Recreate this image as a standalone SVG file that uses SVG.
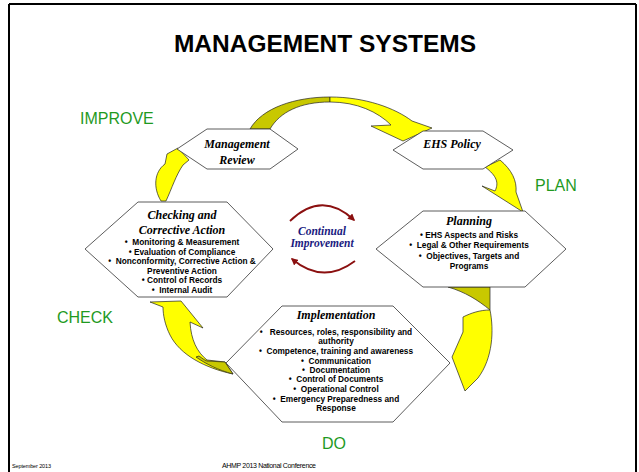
<svg xmlns="http://www.w3.org/2000/svg" width="639" height="472" viewBox="0 0 639 472">
<defs>
<style>
.hex{fill:#fff;stroke:#333;stroke-width:0.8}
.ttl{font-family:"Liberation Serif",serif;font-weight:bold;font-style:italic;font-size:12px;fill:#000;text-anchor:middle}
.bul{font-family:"Liberation Sans",Arial,sans-serif;font-weight:bold;font-size:8.3px;fill:#000;text-anchor:middle;white-space:pre}
.phase{font-family:"Liberation Sans",Arial,sans-serif;font-size:16px;fill:#1f9a1f}
.yel{fill:#ffff00;stroke:#222;stroke-width:0.7;stroke-linejoin:round}
.drk{fill:#c8c800;stroke:#222;stroke-width:0.7;stroke-linejoin:round}
.ci{font-family:"Liberation Serif",serif;font-weight:bold;font-style:italic;font-size:11.5px;fill:#1a1a80;text-anchor:middle}
.arc{fill:none;stroke:#8b1010;stroke-width:1.8}
</style>
<marker id="ah" viewBox="0 0 10 10" refX="8" refY="5" markerWidth="4" markerHeight="4" orient="auto" markerUnits="strokeWidth">
<path d="M0,0 L10,5 L0,10 Z" fill="#8b1010"/>
</marker>
</defs>
<rect width="639" height="472" fill="#fff"/>
<g id="frame" stroke="#000" fill="none">
<line x1="9" y1="4" x2="636" y2="4" stroke-width="2"/>
<line x1="9" y1="4" x2="9" y2="472" stroke-width="2"/>
<line x1="636" y1="4" x2="636" y2="472" stroke-width="2"/>
</g>
<text x="325" y="52" font-family="Liberation Sans,Arial,sans-serif" font-weight="bold" font-size="24.5" text-anchor="middle">MANAGEMENT SYSTEMS</text>
<g id="connectors">
<path class="drk" d="M250,129 C262,108 295,97 330,97 L330,102 C300,102 280,112 270,129 Z"/>
<path class="yel" d="M330,97 C365,97 395,108 412,121 L432,128 L403,141 L371,126 L391,125 C378,112 357,102 330,102 Z"/>
<path class="yel" d="M485,167 C497,176 499,183 495,191 L482,186 L523,212 L516,192 C517,181 512,170 500,160 Z"/>
<path class="drk" d="M448,287 L490,287 L490,310 C478,300 465,292 448,287 Z"/>
<path class="yel" d="M463,317 C471,313 480,310 490,310 C494,330 493,358 478,378 L465,391 L452,357 L463,332 Z"/>
<path class="yel" d="M150,302 L181,301 L203,328 L190,322 C191,340 197,352 207,360 L225,362 L233,374 C205,368 180,355 170,335 C165,325 163,315 163,307 Z"/>
<path class="drk" d="M199,356 C202,358 204,360 207,361 L225,362 L233,374 C218,370 206,364 196,357 Z"/>
<path class="yel" d="M161,201 C153,188 154,172 165,164 L167,154 L178,148 L189,160 L183,165 C176,175 172,188 166,201 Z"/>
</g>
<g id="mgmt-review">
<polygon class="hex" points="177,149 207,129 270,129 298,149 270,169 207,169"/>
<text class="ttl" x="237" y="148">Management</text>
<text class="ttl" x="237" y="164">Review</text>
</g>
<g id="ehs-policy">
<polygon class="hex" points="393,150 423,131 483,131 513,150 483,169 423,169"/>
<text class="ttl" x="452" y="148">EHS Policy</text>
</g>
<g id="planning">
<polygon class="hex" points="376,249 423,211 525,211 566,249 525,287 423,287"/>
<text class="ttl" x="469" y="225">Planning</text>
<text class="bul" x="469" y="238">• EHS Aspects and Risks</text>
<text class="bul" x="469" y="248" font-size="8.6">•  Legal &amp; Other Requirements</text>
<text class="bul" x="469" y="259">•  Objectives, Targets and</text>
<text class="bul" x="469" y="269">Programs</text>
</g>
<g id="checking">
<polygon class="hex" points="85,249 138,202 227,202 273,249 227,297 138,297"/>
<text class="ttl" x="182" y="219">Checking and</text>
<text class="ttl" x="182" y="234">Corrective Action</text>
<text class="bul" x="182" y="245">•  Monitoring &amp; Measurement</text>
<text class="bul" x="182" y="255">• Evaluation of Compliance</text>
<text class="bul" x="182" y="264">•  Nonconformity, Corrective Action &amp;</text>
<text class="bul" x="182" y="274">Preventive Action</text>
<text class="bul" x="182" y="283">• Control of Records</text>
<text class="bul" x="182" y="293">•  Internal Audit</text>
</g>
<g id="implementation">
<polygon class="hex" points="226,363 282,306 393,306 450,363 393,422 282,422"/>
<text class="ttl" x="336" y="319">Implementation</text>
<text class="bul" x="336" y="335">•   Resources, roles, responsibility and</text>
<text class="bul" x="336" y="344">authority</text>
<text class="bul" x="336" y="354">•  Competence, training and awareness</text>
<text class="bul" x="336" y="364">•  Communication</text>
<text class="bul" x="336" y="373">•  Documentation</text>
<text class="bul" x="336" y="382">•  Control of Documents</text>
<text class="bul" x="336" y="392">•  Operational Control</text>
<text class="bul" x="336" y="402">•  Emergency Preparedness and</text>
<text class="bul" x="336" y="411">Response</text>
</g>
<g id="continual-improvement">
<path class="arc" d="M290,221 Q322,190 354,220" marker-end="url(#ah)"/>
<path class="arc" d="M355,261 Q323,285 292,259" marker-end="url(#ah)"/>
<text class="ci" x="322" y="235">Continual</text>
<text class="ci" x="322" y="247">Improvement</text>
</g>
<g id="phases">
<text class="phase" x="80" y="124">IMPROVE</text>
<text class="phase" x="535" y="191">PLAN</text>
<text class="phase" x="57" y="323">CHECK</text>
<text class="phase" x="322" y="449">DO</text>
</g>
<g id="footer" font-family="Liberation Sans,Arial,sans-serif" fill="#000">
<text x="12" y="468" font-size="5.5" textLength="39">September 2013</text>
<text x="222" y="468" font-size="7" textLength="94">AHMP 2013 National Conference</text>
</g>
</svg>
